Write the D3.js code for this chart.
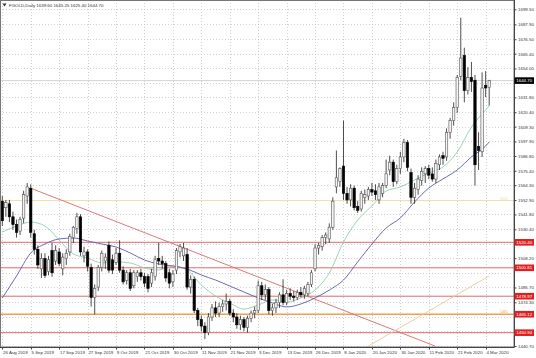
<!DOCTYPE html>
<meta charset="utf-8">
<script src="https://d3js.org/d3.v7.min.js"></script>
<style>
  body { margin: 0; background: #fff; }
  text { font-family: "Liberation Sans", Arial, sans-serif; }
</style>
<div id="chart"></div>
<script>
// daily bars, 26 Aug 2019 .. 5 Mar 2020 (last bar still open)
var opens  = [1552,1547,1550,1540,1534,1529,1539,1556,1562,1527,1515,1500,1508,1498,1514,1506,1513,1500,1508,1513,
              1524,1531,1540,1510,1513,1501,1478,1486,1501,1506,1518,1507,1505,1512,1499,1491,1497,1487,1494,1497,
              1494,1494,1489,1494,1508,1506,1504,1497,1490,1499,1513,1510,1511,1486,1492,1468,1461,1456,1451,1463,
              1470,1466,1471,1473,1475,1466,1463,1457,1461,1455,1462,1466,1468,1487,1480,1484,1468,1470,1474,1480,
              1474,1481,1479,1478,1482,1480,1481,1488,1500,1516,1517,1524,1523,1532,1563,1567,1579,1558,1553,1562,
              1548,1546,1555,1556,1561,1560,1553,1558,1564,1576,1582,1567,1577,1586,1597,1574,1555,1561,1568,1573,
              1577,1573,1569,1580,1587,1586,1605,1614,1624,1648,1664,1637,1647,1645,1594,1590,1641,1639.6];
var highs  = [1556,1553,1553,1544,1538,1540,1560,1566,1565,1530,1518,1512,1512,1510,1520,1518,1516,1512,1515,1527,
              1533,1543,1542,1517,1515,1504,1488,1503,1514,1512,1521,1511,1516,1522,1502,1499,1500,1499,1499,1500,
              1497,1496,1500,1510,1520,1510,1506,1500,1499,1516,1519,1520,1516,1495,1494,1470,1464,1459,1466,1473,
              1475,1474,1476,1481,1477,1469,1466,1464,1463,1464,1468,1471,1491,1490,1488,1486,1473,1477,1482,1492,
              1484,1485,1483,1484,1486,1487,1490,1499,1519,1520,1526,1528,1535,1555,1591,1578,1614,1563,1565,1564,
              1552,1560,1561,1563,1566,1565,1566,1566,1584,1587,1584,1580,1590,1600,1599,1577,1566,1572,1578,1579,
              1580,1578,1584,1588,1590,1608,1616,1628,1649,1693,1670,1655,1659,1649,1605,1651,1652,1645.25];
var lows   = [1533,1540,1536,1530,1524,1526,1535,1550,1524,1511,1500,1493,1493,1495,1494,1503,1502,1495,1503,1510,
              1520,1527,1510,1505,1498,1471,1465,1483,1498,1500,1497,1496,1503,1497,1488,1488,1483,1485,1490,1491,
              1486,1482,1486,1491,1503,1500,1490,1485,1486,1496,1509,1506,1484,1481,1466,1456,1452,1446,1449,1460,
              1463,1463,1467,1468,1464,1459,1454,1453,1452,1451,1459,1462,1466,1476,1476,1465,1464,1466,1470,1472,
              1472,1476,1475,1476,1478,1477,1479,1486,1498,1511,1514,1519,1520,1530,1558,1563,1553,1550,1548,1545,
              1543,1544,1550,1553,1556,1553,1550,1555,1562,1572,1563,1565,1573,1582,1575,1550,1550,1557,1564,1566,
              1569,1567,1566,1576,1580,1583,1600,1610,1620,1645,1628,1634,1636,1564,1576,1586,1632,1625.4];
var closes = [1537,1551,1540,1534,1528,1538,1557,1563,1528,1515,1503,1508,1495,1507,1497,1514,1504,1509,1512,1525,
              1532,1540,1513,1513,1502,1478,1485,1501,1512,1509,1499,1499,1512,1499,1490,1497,1485,1497,1497,1494,
              1489,1485,1497,1507,1506,1504,1493,1489,1496,1514,1517,1516,1486,1492,1468,1461,1456,1451,1463,1470,
              1466,1471,1473,1475,1466,1463,1457,1461,1455,1462,1466,1468,1487,1480,1484,1468,1470,1474,1480,1474,
              1481,1479,1478,1482,1480,1485,1488,1497,1516,1518,1524,1526,1532,1552,1570,1577,1558,1553,1562,1547,
              1545,1558,1557,1561,1559,1557,1563,1564,1573,1582,1567,1577,1586,1597,1578,1555,1562,1569,1575,1577,
              1572,1569,1581,1586,1585,1605,1614,1624,1647,1662,1637,1647,1644,1580,1591,1639,1639,1644.7];

// time axis labels, one every 8 bars
var dateLabels = ["26 Aug 2019","5 Sep 2019","17 Sep 2019","27 Sep 2019","9 Oct 2019","21 Oct 2019",
                  "30 Oct 2019","11 Nov 2019","21 Nov 2019","3 Dec 2019","13 Dec 2019","26 Dec 2019",
                  "8 Jan 2020","20 Jan 2020","30 Jan 2020","11 Feb 2020","21 Feb 2020","4 Mar 2020"];
var priceTicks = [1699.50,1687.90,1676.50,1665.40,1654.00,1642.60,1631.80,1620.40,1609.30,1597.90,1586.80,
                  1575.40,1564.30,1552.90,1541.80,1530.40,1519.30,1508.20,1496.80,1485.70,1474.30,1463.20,
                  1451.90,1440.70];

// moving averages every 4 bars
var maBars = [0,4,8,12,16,20,24,28,32,36,40,44,48,52,56,60,64,68,72,76,80,84,88,92,96,100,104,108,112,116,120,124,128,132,136,137];
var maFast = [1528.3,1532.9,1536.0,1532.9,1522.2,1511.4,1508.3,1504.5,1505.3,1504.5,1500.7,1499.1,1502.2,1499.1,
              1487.6,1479.1,1473.8,1469.1,1472.2,1476.1,1474.5,1477.6,1483.7,1496.8,1520.6,1537.5,1548.3,1559.8,
              1562.9,1568.3,1573.7,1578.3,1589.8,1609.0,1622.1,1625.2];
var maSlow = [1477.6,1494.5,1512.2,1519.1,1523.0,1523.7,1521.4,1519.1,1516.8,1512.2,1506.8,1503.7,1502.2,1499.9,
              1495.3,1491.4,1486.8,1482.2,1477.6,1473.8,1470.7,1473.0,1477.6,1483.7,1491.4,1505.3,1519.1,1531.4,
              1539.1,1551.4,1562.1,1569.1,1576.0,1586.0,1594.4,1597.5];

// horizontal levels and trendlines [bar, price]
var levelPrices = [1520.40,1500.81,1478.97,1465.12,1450.94];
var yellowLevel = 1552.5;
var bidPrice = 1644.70;
var trendDown = [[8,1562],[110,1453.2]];
var trendUp = [[103,1440.7],[137,1494.5]];
var title = "FGOLD,Daily  1639.60 1645.25 1625.40 1644.70";

var W = 536, H = 358, right = 514, bottom = 347;
var fs = 4.4;

var svg = d3.select("#chart").append("svg")
  .attr("width", W).attr("height", H)
  .style("display", "block");

var x = d3.scaleLinear().domain([0, opens.length - 1]).range([2.3, 489.2]);
var y = d3.scaleLinear().domain([1440.7, 1699.5]).range([346, 9.3]);

var plot = svg.append("g");

// grid
plot.selectAll(".hg").data(priceTicks).enter().append("line")
  .attr("x1", 0).attr("x2", right)
  .attr("y1", function(d){ return Math.round(y(d)) + 0.5; })
  .attr("y2", function(d){ return Math.round(y(d)) + 0.5; })
  .attr("stroke", "#c4c4c4").attr("stroke-width", 0.8).attr("stroke-dasharray", "1,2");
plot.selectAll(".vg").data(dateLabels).enter().append("line")
  .attr("x1", function(d, i){ return Math.round(x(i * 8)) + 0.5; })
  .attr("x2", function(d, i){ return Math.round(x(i * 8)) + 0.5; })
  .attr("y1", 0).attr("y2", bottom)
  .attr("stroke", "#c4c4c4").attr("stroke-width", 0.8).attr("stroke-dasharray", "1,2");

// levels
var levelColor = ["#e06a6a","#e06a6a","#e06a6a","#f0a050","#e06a6a"];
plot.append("line").attr("x1", 0).attr("x2", right)
  .attr("y1", y(yellowLevel)).attr("y2", y(yellowLevel))
  .attr("stroke", "#efe0a8").attr("stroke-width", 1);
plot.append("line").attr("x1", 0).attr("x2", right)
  .attr("y1", y(bidPrice)).attr("y2", y(bidPrice))
  .attr("stroke", "#c8c8c8").attr("stroke-width", 0.8);
plot.selectAll(".lvl").data(levelPrices).enter().append("line")
  .attr("x1", 0).attr("x2", right)
  .attr("y1", function(d){ return y(d); }).attr("y2", function(d){ return y(d); })
  .attr("stroke", function(d, i){ return levelColor[i]; })
  .attr("stroke-width", function(d, i){ return i == 3 ? 1.4 : 1; });

// trendlines, the falling one runs to the bottom of the chart
function extendToBottom(p) {
  var x0 = x(p[0][0]), y0 = y(p[0][1]), x1 = x(p[1][0]), y1 = y(p[1][1]);
  var s = (y1 - y0) / (x1 - x0);
  return [x0, y0, x0 + (bottom - 1 - y0) / s, bottom - 1];
}
var td = extendToBottom(trendDown);
plot.append("line").attr("x1", td[0]).attr("y1", td[1]).attr("x2", td[2]).attr("y2", td[3])
  .attr("stroke", "#d86a6a").attr("stroke-width", 0.9);
plot.append("line")
  .attr("x1", x(trendUp[0][0])).attr("y1", y(trendUp[0][1]))
  .attr("x2", x(trendUp[1][0])).attr("y2", y(trendUp[1][1]))
  .attr("stroke", "#e8c898").attr("stroke-width", 0.9);

// moving averages
var maLine = function(vals) {
  return d3.line()
    .x(function(d, i){ return x(maBars[i]); })
    .y(function(d){ return y(d); })
    .curve(d3.curveMonotoneX)(vals);
};
plot.append("path").attr("d", maLine(maFast))
  .attr("fill", "none").attr("stroke", "#8ccfa8").attr("stroke-width", 0.9);
plot.append("path").attr("d", maLine(maSlow))
  .attr("fill", "none").attr("stroke", "#5a5aa8").attr("stroke-width", 0.9);

// candles
var bars = d3.range(opens.length);
var bw = 2.4;
plot.selectAll(".wick").data(bars).enter().append("line")
  .attr("x1", function(i){ return x(i); }).attr("x2", function(i){ return x(i); })
  .attr("y1", function(i){ return y(highs[i]); }).attr("y2", function(i){ return y(lows[i]); })
  .attr("stroke", "#222").attr("stroke-width", 0.8);
plot.selectAll(".body").data(bars).enter().append("rect")
  .attr("x", function(i){ return x(i) - bw / 2; })
  .attr("width", bw)
  .attr("y", function(i){ return y(Math.max(opens[i], closes[i])); })
  .attr("height", function(i){ return Math.max(0.8, Math.abs(y(opens[i]) - y(closes[i]))); })
  .attr("fill", function(i){ return closes[i] >= opens[i] ? "#f4f4f4" : "#000"; })
  .attr("stroke", function(i){ return closes[i] >= opens[i] ? "#555" : "#000"; })
  .attr("stroke-width", 0.6);

// frame and axes
svg.append("rect").attr("x", 0.5).attr("y", 0.5).attr("width", right - 0.5).attr("height", bottom - 0.5)
  .attr("fill", "none").attr("stroke", "#777").attr("stroke-width", 1);
svg.append("line").attr("x1", right + 0.5).attr("x2", right + 0.5).attr("y1", 0).attr("y2", bottom)
  .attr("stroke", "#444");
svg.append("line").attr("x1", 0).attr("x2", right + 0.5).attr("y1", bottom + 0.5).attr("y2", bottom + 0.5)
  .attr("stroke", "#444");

// price scale: labels that sit under a price box are not drawn, as in the terminal
var boxPrices = levelPrices.concat([bidPrice]);
var visibleTicks = priceTicks.filter(function(t) {
  return boxPrices.every(function(b){ return Math.abs(y(t) - y(b)) > 5.5; });
});
var axisR = svg.append("g").attr("transform", "translate(" + (right + 0.5) + ",0)")
  .call(d3.axisRight(y).tickValues(visibleTicks).tickSize(2).tickPadding(1.5)
        .tickFormat(function(d){ return d.toFixed(2); }));
axisR.select(".domain").remove();
axisR.selectAll("text").attr("font-size", fs).attr("fill", "#333").attr("font-family", "Liberation Sans, Arial");
axisR.selectAll("line").attr("stroke", "#444");

var axisB = svg.append("g").attr("transform", "translate(0," + (bottom + 0.5) + ")");
axisB.selectAll("text").data(dateLabels).enter().append("text")
  .attr("x", function(d, i){ return x(i * 8) + 0.8; })
  .attr("y", 6.5)
  .attr("font-size", fs).attr("fill", "#333")
  .text(function(d){ return d; });
axisB.selectAll("line").data(dateLabels).enter().append("line")
  .attr("x1", function(d, i){ return Math.round(x(i * 8)) + 0.5; })
  .attr("x2", function(d, i){ return Math.round(x(i * 8)) + 0.5; })
  .attr("y1", 0).attr("y2", 2).attr("stroke", "#444");

// price labels of levels
function priceBox(price, fill) {
  var g = svg.append("g").attr("transform", "translate(" + (right + 0.5) + "," + y(price) + ")");
  g.append("rect").attr("x", 0).attr("y", -3.3).attr("width", 19.5).attr("height", 6.6).attr("fill", fill);
  g.append("text").attr("x", 1.8).attr("y", 1.6).attr("font-size", fs).attr("fill", "#fff")
    .text(price.toFixed(2));
}
levelPrices.forEach(function(p){ priceBox(p, "#e0201e"); });
priceBox(bidPrice, "#000");

// small line descriptions near the right edge
svg.append("text").attr("x", 500).attr("y", y(yellowLevel) - 1).attr("font-size", 3.4)
  .attr("fill", "#e8d8a0").text("1552");
svg.append("text").attr("x", 500).attr("y", y(levelPrices[3]) - 1).attr("font-size", 3.4)
  .attr("fill", "#f0a050").text("1465");

// title
svg.append("path").attr("d", "M2.5,3.5 L6.5,3.5 L4.5,6.5 Z").attr("fill", "#333");
svg.append("text").attr("x", 9).attr("y", 7).attr("font-size", fs).attr("fill", "#333")
  .text(title);
</script>
